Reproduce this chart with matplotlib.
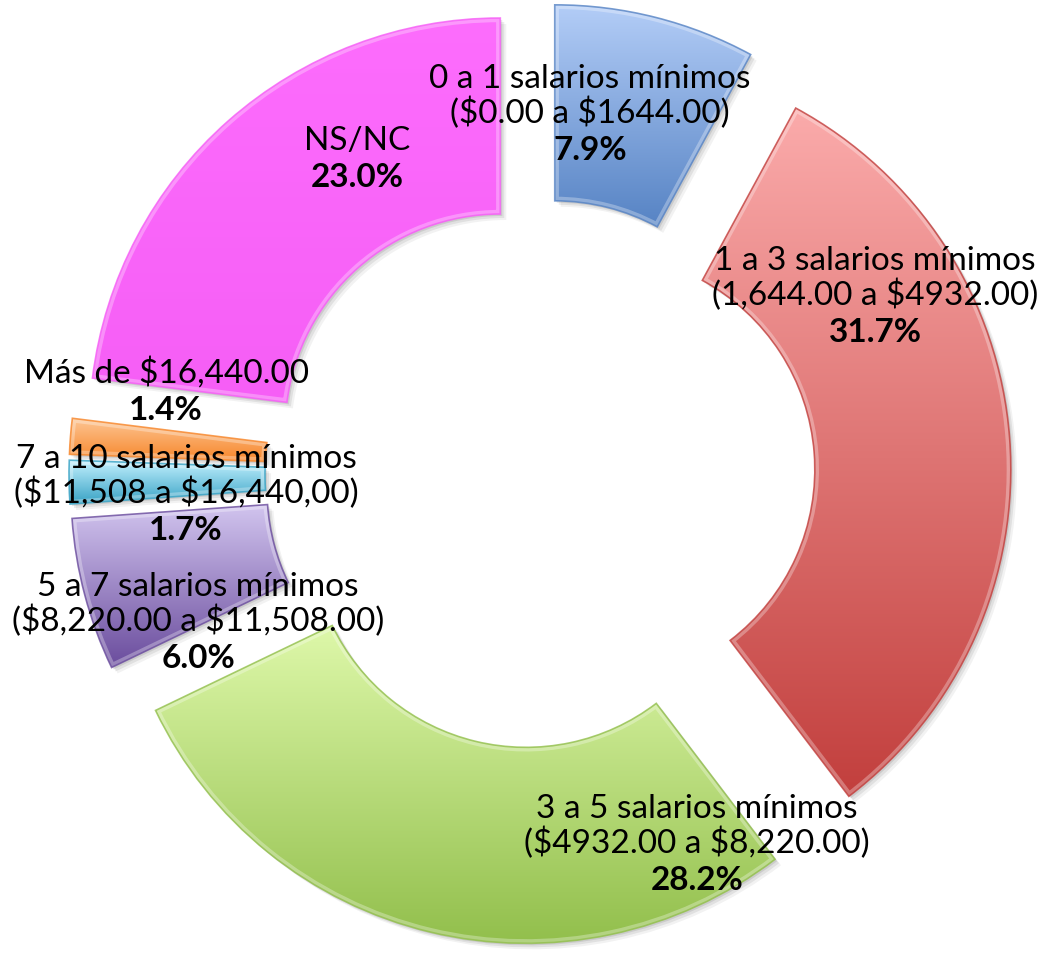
import numpy as np
import matplotlib
matplotlib.use("Agg")
import matplotlib.pyplot as plt
import matplotlib.patches as mpatches
from matplotlib.colors import to_rgb

plt.rcParams["text.parse_math"] = False

# Distribución de ingresos (porcentaje de respuestas)
categorias = [
    "0 a 1 salarios mínimos\n($0.00 a $1644.00)",
    "1 a 3 salarios mínimos\n(1,644.00 a $4932.00)",
    "3 a 5 salarios mínimos\n($4932.00 a $8,220.00)",
    "5 a 7 salarios mínimos\n($8,220.00 a $11,508.00)",
    "7 a 10 salarios mínimos\n($11,508 a $16,440,00)",
    "Más de $16,440.00",
    "NS/NC",
]
porcentajes = [7.9, 31.7, 28.2, 6.0, 1.7, 1.4, 23.0]

# degradado vertical de cada sector: tono claro arriba, oscuro abajo
tono_claro = ["#b3cdf7", "#fbabab", "#def8aa", "#d2c5ef", "#c4f1ff", "#fdc898", "#fd6dfd"]
tono_oscuro = ["#5683c4", "#c23f3d", "#92bf4c", "#6a4c9d", "#37a2c4", "#f7862a", "#f65ef6"]

W, H = 1047, 954
fig = plt.figure(figsize=(W / 100, H / 100), dpi=100)
ax = fig.add_axes([0, 0, 1, 1])

cx, cy = 540, H - 475
R = 411
ancho = 196
sep = 60

wedges, _ = ax.pie(porcentajes, radius=R, center=(cx, cy), startangle=90,
                   counterclock=False, explode=[sep] * len(porcentajes),
                   wedgeprops=dict(width=ancho, linewidth=0))

grad = np.linspace(0, 1, 256)[:, None, None]
for w, c1, c2 in zip(wedges, tono_claro, tono_oscuro):
    w.set_facecolor("none")
    w.set_zorder(3)
    # sombra suave hacia abajo a la derecha
    for k, a in [(6, 0.05), (4, 0.07), (2, 0.09)]:
        sombra = mpatches.Wedge((w.center[0] + k, w.center[1] - k), w.r, w.theta1, w.theta2,
                                width=w.width, facecolor="black", alpha=a,
                                edgecolor="none", zorder=1)
        ax.add_patch(sombra)

    bb = w.get_path().get_extents()
    rgb = (1 - grad) * np.array(to_rgb(c1)) + grad * np.array(to_rgb(c2))
    im = ax.imshow(rgb, extent=(bb.x0, bb.x1, bb.y0, bb.y1), origin="upper",
                   aspect="auto", interpolation="bicubic", zorder=2)
    im.set_clip_path(w)

    # bisel: borde claro interior y contorno oscuro
    bisel = mpatches.Wedge(w.center, w.r, w.theta1, w.theta2, width=w.width,
                           facecolor="none", edgecolor="white", alpha=0.3,
                           linewidth=6, zorder=3)
    ax.add_patch(bisel)
    bisel.set_clip_path(w)
    borde = mpatches.Wedge(w.center, w.r, w.theta1, w.theta2, width=w.width,
                           facecolor="none", edgecolor=c2, alpha=0.8,
                           linewidth=1.2, zorder=4)
    ax.add_patch(borde)

# posición (x, línea base del porcentaje medida desde arriba) de cada etiqueta
pos_etiquetas = [(590, 160), (875, 342), (697, 890), (198, 668),
                 (186, 540), (166, 420), (357, 187)]

fuente = "Lato"
for texto, pct, (x, y) in zip(categorias, porcentajes, pos_etiquetas):
    yb = H - y
    ax.text(x, yb, f"{pct:.1f}%", ha="center", va="baseline", fontsize=24,
            fontweight="bold", family=fuente, color="black", zorder=6)
    ax.text(x, yb + 31, texto, ha="center", va="bottom", fontsize=24,
            family=fuente, color="black", linespacing=1.1, zorder=6)

ax.set_xlim(0, W)
ax.set_ylim(0, H)
ax.set_aspect("equal")
ax.axis("off")
fig.savefig("out.png", dpi=100, facecolor="white")
